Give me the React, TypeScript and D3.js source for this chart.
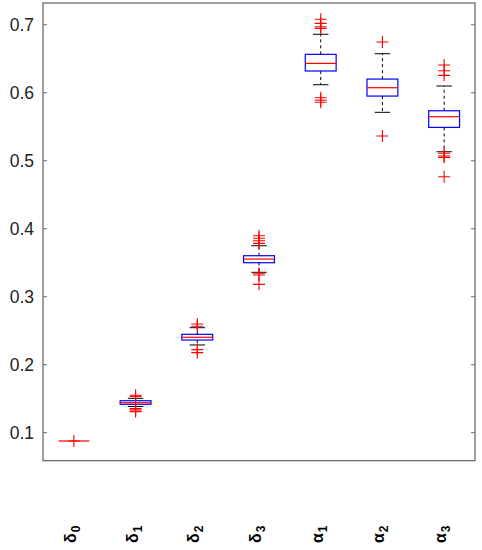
import React, { useRef, useEffect } from "react";
import * as d3 from "d3";

// parameter names: greek letter + subscript
const symbols = ["δ", "δ", "δ", "δ", "α", "α", "α"];
const subscripts = ["0", "1", "2", "3", "1", "2", "3"];

// box statistics
const q1 = [0.0878, 0.1418, 0.2363, 0.35, 0.632, 0.5951, 0.549];
const medians = [0.0878, 0.1441, 0.2403, 0.3554, 0.6432, 0.6074, 0.5647];
const q3 = [0.0878, 0.147, 0.2447, 0.3603, 0.6565, 0.6201, 0.5735];
const whiskerLow = [0.0878, 0.1385, 0.229, 0.3359, 0.6118, 0.5712, 0.5132];
const whiskerHigh = [0.0878, 0.1505, 0.2544, 0.375, 0.686, 0.6574, 0.6099];
const outliers = [
    [0.0878],
    [0.1532, 0.155, 0.1355, 0.1335, 0.131],
    [0.2598, 0.2565, 0.2222, 0.2177],
    [0.3897, 0.3859, 0.3824, 0.3785, 0.3344, 0.3319, 0.3182],
    [0.708, 0.702, 0.697, 0.6947, 0.5926, 0.589, 0.586],
    [0.6746, 0.5363],
    [0.6407, 0.6324, 0.6256, 0.5109, 0.507, 0.505, 0.4765],
];
const yTicks = [0.1, 0.2, 0.3, 0.4, 0.5, 0.6, 0.7];

const App: React.FC = () => {
    const svgRef = useRef<SVGSVGElement | null>(null);

    useEffect(() => {
        if (!svgRef.current) return;
        const width = 482;
        const height = 550;
        const svg = d3.select(svgRef.current);
        svg.selectAll("*").remove();
        svg.attr("width", width).attr("height", height);

        const left = 43, right = 475, top = 3, bottom = 460.7;
        const n = symbols.length;

        const x = d3.scaleLinear().domain([0.5, n + 0.5]).range([left, right]);
        const y = d3.scaleLinear().domain([0.0588, 0.732]).range([bottom, top]);
        const boxW = x(1.5) - x(1);
        const capW = boxW / 2;

        // axes box
        svg.append("rect")
            .attr("x", left).attr("y", top)
            .attr("width", right - left).attr("height", bottom - top)
            .attr("fill", "none").attr("stroke", "#6b6b6b").attr("stroke-width", 1.3);

        // ticks on both sides, pointing in
        yTicks.forEach((t) => {
            svg.append("line")
                .attr("x1", left).attr("x2", left + 4)
                .attr("y1", y(t)).attr("y2", y(t))
                .attr("stroke", "#6b6b6b").attr("stroke-width", 1);
            svg.append("line")
                .attr("x1", right - 4).attr("x2", right)
                .attr("y1", y(t)).attr("y2", y(t))
                .attr("stroke", "#6b6b6b").attr("stroke-width", 1);
            svg.append("text")
                .attr("x", 34).attr("y", y(t))
                .attr("dy", "0.35em")
                .attr("text-anchor", "end")
                .attr("font-family", "Liberation Sans, Arial, sans-serif")
                .attr("font-size", 17.5)
                .attr("fill", "#222")
                .text(d3.format(".1f")(t));
        });

        for (let i = 0; i < n; i++) {
            const cx = x(i + 1);
            const g = svg.append("g");

            // whiskers (dashed) and caps
            if (whiskerHigh[i] > q3[i]) {
                g.append("line")
                    .attr("x1", cx).attr("x2", cx)
                    .attr("y1", y(q3[i])).attr("y2", y(whiskerHigh[i]))
                    .attr("stroke", "#000").attr("stroke-dasharray", "3,3");
                g.append("line")
                    .attr("x1", cx - capW / 2).attr("x2", cx + capW / 2)
                    .attr("y1", y(whiskerHigh[i])).attr("y2", y(whiskerHigh[i]))
                    .attr("stroke", "#000");
            }
            if (whiskerLow[i] < q1[i]) {
                g.append("line")
                    .attr("x1", cx).attr("x2", cx)
                    .attr("y1", y(q1[i])).attr("y2", y(whiskerLow[i]))
                    .attr("stroke", "#000").attr("stroke-dasharray", "3,3");
                g.append("line")
                    .attr("x1", cx - capW / 2).attr("x2", cx + capW / 2)
                    .attr("y1", y(whiskerLow[i])).attr("y2", y(whiskerLow[i]))
                    .attr("stroke", "#000");
            }

            // box
            if (q3[i] > q1[i]) {
                g.append("rect")
                    .attr("x", cx - boxW / 2).attr("y", y(q3[i]))
                    .attr("width", boxW).attr("height", y(q1[i]) - y(q3[i]))
                    .attr("fill", "none").attr("stroke", "#0000ff").attr("stroke-width", 1.2);
            }

            // median
            g.append("line")
                .attr("x1", cx - boxW / 2).attr("x2", cx + boxW / 2)
                .attr("y1", y(medians[i])).attr("y2", y(medians[i]))
                .attr("stroke", "#ff0000").attr("stroke-width", 1.2);

            // outliers as '+'
            outliers[i].forEach((v) => {
                const py = y(v);
                g.append("path")
                    .attr("d", `M${cx - 6},${py}H${cx + 6}M${cx},${py - 6}V${py + 6}`)
                    .attr("stroke", "#ff0000").attr("stroke-width", 1.1).attr("fill", "none");
            });

            // rotated category label
            const label = svg.append("text")
                .attr("transform", `translate(${cx + 2},543) rotate(-90)`)
                .attr("font-family", "Liberation Sans, Arial, sans-serif")
                .attr("font-weight", "bold")
                .attr("font-size", 16)
                .attr("fill", "#000");
            label.append("tspan").text(symbols[i]);
            label.append("tspan").attr("font-size", 12).attr("dy", 4).attr("dx", 1).text(subscripts[i]);
        }
    }, []);

    return <svg ref={svgRef} style={{ position: "absolute", left: 0, top: 0 }}></svg>;
};

export default App;
